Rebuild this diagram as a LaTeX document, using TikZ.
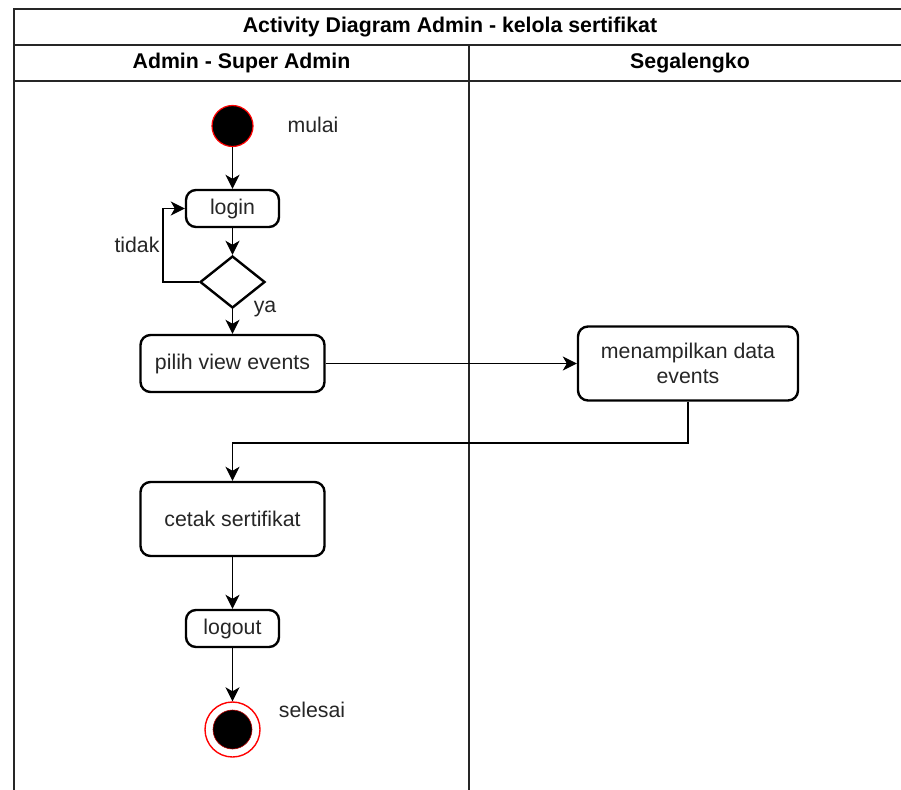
\documentclass[tikz,border=0pt]{standalone}
\usepackage{fontspec}
\setmainfont{Liberation Sans}
\usetikzlibrary{arrows.meta,shapes.geometric}
\begin{document}
\begin{tikzpicture}[x=1pt,y=-1pt,
  every node/.style={font=\fontsize{21.3}{25.5}\selectfont, text=black!85, inner sep=0pt},
  lanehead/.style={font=\fontsize{21.3}{25.5}\bfseries\selectfont, text=black},
  poolline/.style={draw=black!85, line width=2pt},
  action/.style={draw=black, line width=2.4pt, rounded corners=10pt, fill=white, align=center},
  decision/.style={draw=black, line width=2.4pt, diamond, fill=white},
  flow/.style={draw=black, line width=1.6pt, -{Stealth[length=14pt,width=14pt,inset=4pt]}},
  note/.style={anchor=center}]

  % page area
  \clip (0,0) rectangle (901,789);
  \fill[white] (0,0) rectangle (901,789);

  % pool with title band, lane headers and lane divider
  \draw[poolline] (14,9.5) rectangle (1000,900);
  \draw[poolline] (14,45) -- (1000,45);
  \draw[poolline] (14,81) -- (1000,81);
  \draw[poolline] (469,45) -- (469,900);
  \node[lanehead] (title) at (450,27) {Activity Diagram Admin - kelola sertifikat};
  \node[lanehead] (laneA) at (241.5,63) {Admin - Super Admin};
  \node[lanehead] (laneB) at (690,63) {Segalengko};

  % start state
  \node[circle, fill=black, draw=red, line width=1.2pt, minimum size=41pt] (start) at (232.5,126) {};
  \node[note] (mulai) at (313,125) {mulai};

  % actions and decision
  \node[action, minimum width=93pt, minimum height=37pt] (login) at (232.5,208.5) {login};
  \node[decision, minimum width=65pt, minimum height=52pt] (dec) at (232.5,282) {};
  \node[action, minimum width=184pt, minimum height=57pt] (pilih) at (232.5,363.5) {pilih view events};
  \node[action, minimum width=220pt, minimum height=74pt] (tampil) at (688,363.5) {menampilkan data\\events};
  \node[action, minimum width=184pt, minimum height=74pt] (cetak) at (232.5,519) {cetak sertifikat};
  \node[action, minimum width=93pt, minimum height=37pt] (logout) at (232.5,628.5) {logout};

  % end state
  \node[circle, fill=white, draw=red, line width=1.4pt, minimum size=55pt] (stop) at (232.5,729.5) {};
  \node[circle, fill=black, draw=red!70!black, line width=0.6pt, minimum size=39pt] (stopdot) at (stop.center) {};
  \node[note] (selesai) at (312,710) {selesai};

  % guard labels
  \node[note] (tidak) at (137,245) {tidak};
  \node[note] (ya) at (265,309) {ya};

  % control flow
  \coordinate (loopx) at (163,282);
  \draw[flow] (start) -- (login);
  \draw[flow] (login) -- (dec);
  \draw[flow] (dec.west) -- (loopx) |- (login.west);
  \draw[flow] (dec.south) -- (pilih.north);
  \draw[flow] (pilih.east) -- (tampil.west);
  \draw[flow] (tampil.south) -- ++(0,41) -| (cetak.north);
  \draw[flow] (cetak) -- (logout);
  \draw[flow] (logout) -- (stop);
\end{tikzpicture}
\end{document}
